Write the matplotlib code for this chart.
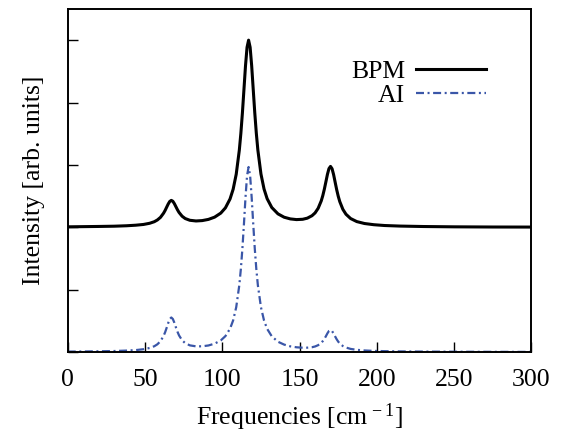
import matplotlib
matplotlib.use("Agg")
import matplotlib.pyplot as plt

# ---- data ----
freq = [0, 10, 20, 30, 38, 44, 49, 53, 56, 58, 60, 62,
        63, 64, 65, 66, 67, 68, 69, 70, 71, 72, 74, 76, 79, 83, 87, 91, 95, 99,
        102, 105, 107, 109, 111,
        112, 113, 114, 115, 116, 117, 118, 119, 120, 121, 122, 123, 125, 127, 129,
        132, 136, 140, 144, 148, 152, 155, 158, 160, 162, 164,
        165, 166, 167, 168, 169, 170, 171, 172, 173, 174, 175, 176, 178, 180, 183,
        187, 192, 198, 205, 215, 230, 250, 275, 300]

bpm = [2.008, 2.011, 2.014, 2.018, 2.025, 2.034, 2.046, 2.065, 2.090, 2.118, 2.160, 2.227,
       2.271, 2.323, 2.374, 2.415, 2.432, 2.418, 2.379, 2.330, 2.281, 2.239, 2.178, 2.141,
       2.113, 2.102, 2.108, 2.127, 2.163, 2.228,
       2.312, 2.455, 2.610, 2.852, 3.237,
       3.507, 3.835, 4.211, 4.590, 4.887, 5.002, 4.887, 4.590, 4.212, 3.837, 3.509, 3.239,
       2.855, 2.614, 2.459,
       2.318, 2.216, 2.162, 2.135, 2.124, 2.129, 2.147, 2.186, 2.231, 2.305, 2.424,
       2.508, 2.611, 2.729, 2.849, 2.942, 2.977, 2.940, 2.845, 2.723, 2.603, 2.498, 2.412,
       2.288, 2.210, 2.141,
       2.092, 2.061, 2.042, 2.029, 2.020, 2.013, 2.008, 2.005, 2.004]

ai = [0.007, 0.009, 0.012, 0.016, 0.023, 0.031, 0.045, 0.065, 0.093, 0.124, 0.174, 0.258,
      0.317, 0.389, 0.465, 0.529, 0.554, 0.530, 0.469, 0.394, 0.325, 0.267, 0.188, 0.142,
      0.107, 0.091, 0.092, 0.105, 0.134, 0.186,
      0.255, 0.374, 0.507, 0.719, 1.073,
      1.332, 1.661, 2.056, 2.479, 2.827, 2.967, 2.827, 2.478, 2.056, 1.660, 1.331, 1.072,
      0.718, 0.505, 0.372,
      0.252, 0.165, 0.119, 0.091, 0.076, 0.069, 0.070, 0.077, 0.089, 0.110, 0.147,
      0.175, 0.210, 0.253, 0.300, 0.338, 0.352, 0.336, 0.296, 0.249, 0.204, 0.166, 0.137,
      0.096, 0.072, 0.050,
      0.035, 0.025, 0.018, 0.014, 0.010, 0.007, 0.005, 0.003, 0.002]

xticks = [0, 50, 100, 150, 200, 250, 300]
yticks = [0, 1, 2, 3, 4, 5]

plt.rcParams['font.family'] = ['Liberation Serif', 'DejaVu Serif']
plt.rcParams['mathtext.fontset'] = 'custom'
plt.rcParams['mathtext.rm'] = 'Liberation Serif'
plt.rcParams['mathtext.it'] = 'Liberation Serif:italic'

FS = 18.5

fig = plt.figure(figsize=(5.63, 4.33), dpi=100)
ax = fig.add_axes([0.1203, 0.187, 0.8237, 0.792])

ax.plot(freq, bpm, color='black', lw=2.2, label='BPM')
ax.plot(freq, ai, color='#3a56a8', lw=1.6, linestyle=(0, (3.6, 1.6, 0.9, 1.6)), label='AI')

ax.set_xlim(0, 300)
ax.set_ylim(0, 5.5)
ax.set_xticks(xticks)
ax.set_yticks(yticks)
ax.set_yticklabels([])
ax.tick_params(axis='both', direction='in', length=7, width=1.0,
               top=False, right=False, labelsize=FS)
ax.tick_params(axis='x', pad=12)
for s in ax.spines.values():
    s.set_linewidth(1.4)

ax.set_xlabel('Frequencies [cm$^{\\,-1}$]', fontsize=FS, labelpad=8)
ax.set_ylabel('Intensity [arb. units]', fontsize=FS, labelpad=13)

leg = ax.legend(loc='upper right', bbox_to_anchor=(0.901, 0.852), frameon=False,
                markerfirst=False, fontsize=FS, handlelength=2.72,
                labelspacing=0.05, handletextpad=0.4, borderpad=0.0, borderaxespad=0.0)
for t in leg.get_texts():
    t.set_ha('right')

fig.savefig('out.png', dpi=100)
